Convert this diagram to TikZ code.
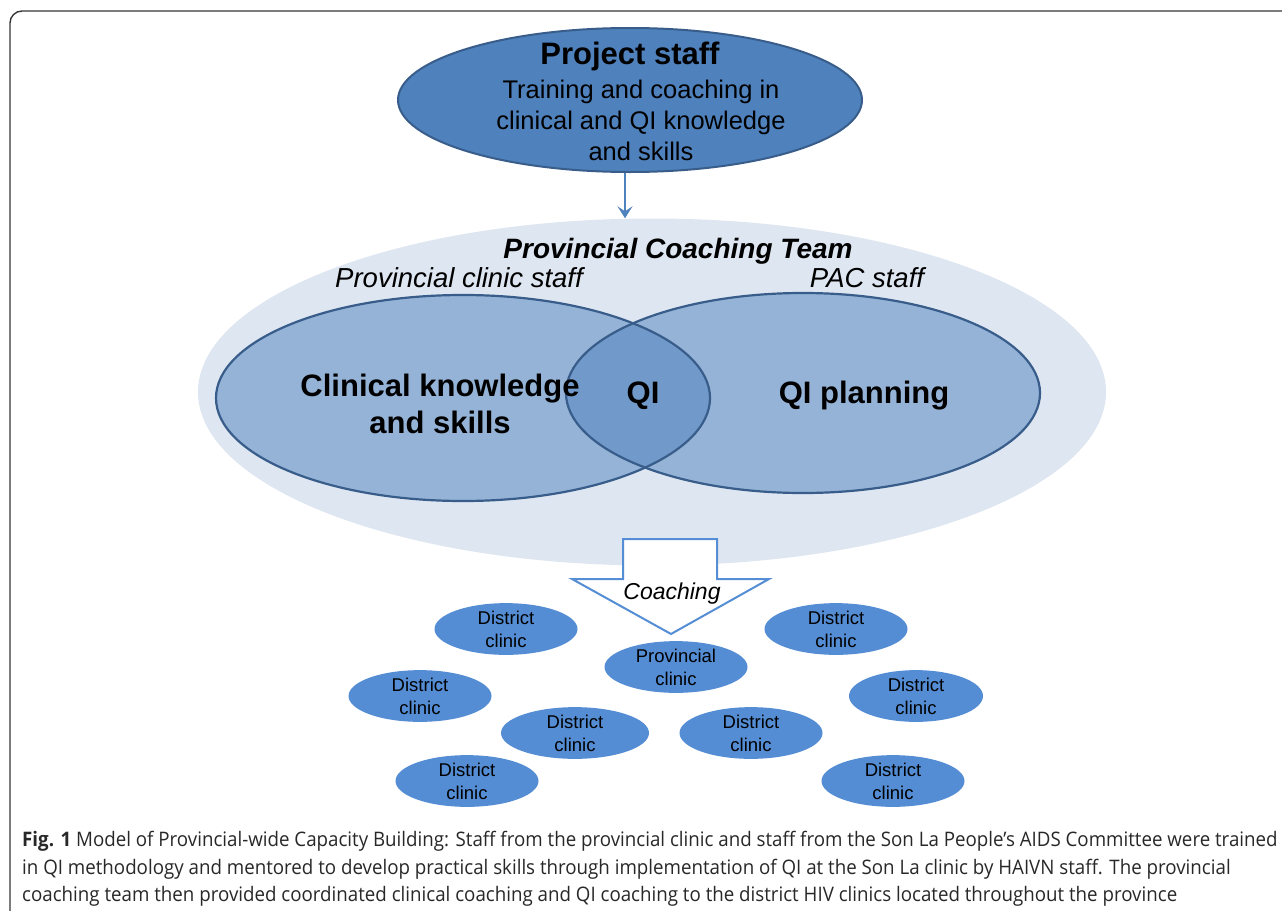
\documentclass[tikz,border=0pt]{standalone}
\usepackage{fontspec}
\setmainfont{Liberation Sans}
\newfontfamily\capfont[FakeStretch=0.936]{Open Sans}
\usetikzlibrary{shapes.geometric,arrows.meta}
\definecolor{topblue}{RGB}{79,129,189}
\definecolor{edgeblue}{RGB}{56,93,138}
\definecolor{paleblue}{RGB}{222,230,241}
\definecolor{vennblue}{RGB}{149,179,215}
\definecolor{overlapblue}{RGB}{113,153,201}
\definecolor{clinicblue}{RGB}{84,141,212}
\definecolor{arrowblue}{RGB}{85,142,213}
\definecolor{framegray}{RGB}{55,55,55}
\definecolor{captext}{RGB}{40,40,40}
\begin{document}
\begin{tikzpicture}[x=1pt,y=-1pt,
  clinic/.style={ellipse, fill=clinicblue, minimum width=143pt, minimum height=48pt,
    inner sep=0pt, align=center, font=\fontsize{18.5}{23}\selectfont},
  venn/.style={ellipse, fill=vennblue, inner sep=0pt},
  vennedge/.style={draw=edgeblue, line width=2.2pt},
  bigtxt/.style={font=\fontsize{31}{37}\selectfont\bfseries, align=center, inner sep=0pt},
  labtxt/.style={font=\fontsize{27.5}{32}\selectfont\itshape, inner sep=0pt},
  capline/.style={anchor=base west, inner sep=0pt, text=captext, font=\capfont\fontsize{20}{24}\selectfont}]
\useasboundingbox (0,0) rectangle (1282,910);
\fill[white] (0,0) rectangle (1282,910);
% frame
\draw[framegray, line width=1.4pt, rounded corners=12pt] (10,930) -- (10,11) -- (1310,11);
% project staff
\node[ellipse, fill=topblue, draw=edgeblue, line width=2pt, minimum width=464pt, minimum height=144pt, inner sep=0pt] (proj) at (630,100) {};
\node[font=\fontsize{31}{37}\selectfont\bfseries, inner sep=0pt] (ptitle) at (630,56) {Project staff};
\node[font=\fontsize{25.5}{31}\selectfont, align=center, inner sep=0pt] (pdesc) at (641,120) {Training and coaching in\\clinical and QI knowledge\\and skills};
% team
\node[ellipse, fill=paleblue, minimum width=908pt, minimum height=347pt, inner sep=0pt] (team) at (652,392) {};
\coordinate (ax) at (625,0);
\draw[topblue, line width=2.8pt, -{Stealth[length=12pt,width=15pt,inset=5pt]}] (proj.south -| ax) -- (team.north -| ax);
% venn
\node[venn, minimum width=494pt, minimum height=206pt] (clin) at (463,398) {};
\node[venn, minimum width=474pt, minimum height=200pt] (pac) at (803,393) {};
\begin{scope}
  \clip (clin.center) ellipse [x radius=247pt, y radius=103pt];
  \fill[overlapblue] (pac.center) ellipse [x radius=237pt, y radius=100pt];
\end{scope}
\draw[vennedge] (clin.center) ellipse [x radius=247pt, y radius=103pt];
\draw[vennedge] (pac.center) ellipse [x radius=237pt, y radius=100pt];
\node[font=\fontsize{28}{34}\selectfont\bfseries\itshape, inner sep=0pt] (teamlab) at (678,251) {Provincial Coaching Team};
\node[labtxt] (clinlab) at (459,278) {Provincial clinic staff};
\node[labtxt] (paclab) at (867,278) {PAC staff};
\node[bigtxt] (clintxt) at (440,404) {Clinical knowledge\\and skills};
\node[bigtxt] (qitxt) at (643,396) {QI};
\node[bigtxt] (plantxt) at (864,396) {QI planning};
% coaching arrow
\draw[arrowblue, line width=2pt, fill=white, line join=miter] (623,539) -- (717,539) -- (717,579) -- (769,579) -- (671,634) -- (572,579) -- (623,579) -- cycle;
\node[font=\fontsize{23}{28}\selectfont\itshape, inner sep=0pt] (coach) at (672,594) {Coaching};
% clinics
\node[clinic] (d1) at (506,629) {District\\clinic};
\node[clinic] (d2) at (420,696) {District\\clinic};
\node[clinic, minimum width=148pt] (d3) at (575,733) {District\\clinic};
\node[clinic] (d4) at (467,781) {District\\clinic};
\node[clinic] (pc) at (676,667) {Provincial\\clinic};
\node[clinic] (d5) at (836,629) {District\\clinic};
\node[clinic, minimum width=134pt] (d6) at (916,696) {District\\clinic};
\node[clinic] (d7) at (751,733) {District\\clinic};
\node[clinic] (d8) at (893,781) {District\\clinic};
% caption
\node[capline] (c1) at (22,846) {{\bfseries Fig. 1} Model of Provincial-wide Capacity Building: Staff from the provincial clinic and staff from the Son La People’s AIDS Committee were trained};
\node[capline] (c2) at (22,874) {in QI methodology and mentored to develop practical skills through implementation of QI at the Son La clinic by HAIVN staff. The provincial};
\node[capline] (c3) at (22,901) {coaching team then provided coordinated clinical coaching and QI coaching to the district HIV clinics located throughout the province};
\end{tikzpicture}
\end{document}
